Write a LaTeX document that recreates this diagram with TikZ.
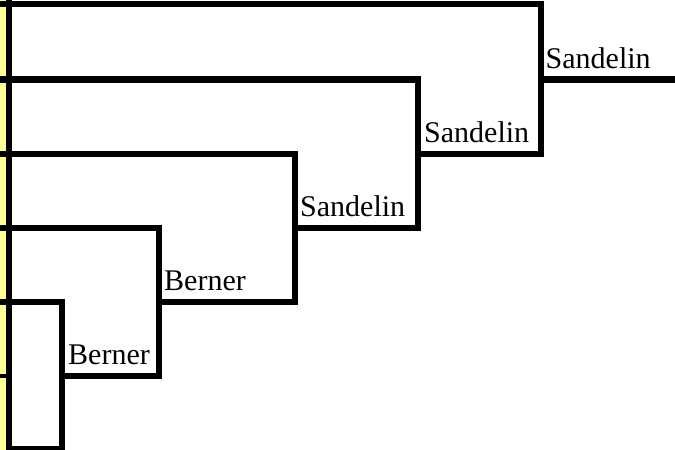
\documentclass[tikz,border=0pt]{standalone}
\usepackage{fontspec}
\setmainfont{Liberation Serif}
\usepackage{tikz}
\usetikzlibrary{calc,backgrounds}
\definecolor{strip}{HTML}{FFFF99}
\tikzstyle{bracket}=[
  x=1pt,y=-1pt,font=\fontsize{30}{36}\selectfont
]
\tikzstyle{edge}=[
  line width=6.5pt
]
\tikzstyle{tick}=[
  line width=4pt
]
\tikzstyle{winner}=[
  anchor=base west,inner sep=0pt
]
\begin{document}
\begin{tikzpicture}[bracket]
    \fill [white] (0,0) rectangle (675,450);
    \fill [strip] (0,0) rectangle (6,450);
    \useasboundingbox (0,0) rectangle (675,450);
      \coordinate (l1) at (0,4);
      \coordinate (l2) at (0,79.5);
      \coordinate (l3) at (0,154);
      \coordinate (l4) at (0,228);
      \coordinate (l5) at (0,302);
      \coordinate (l6) at (0,376);
      \coordinate (l7) at (9,449.5);
      \coordinate (top) at (9,0);
      \coordinate (bot) at (9,450);
      \coordinate (jA) at (62,376);
      \coordinate (jB) at (159,302);
      \coordinate (jC) at (295,228);
      \coordinate (jD) at (418,154);
      \coordinate (jE) at (541,79.5);
      \coordinate (out) at (675,79.5);
      \node (wA) at ($(jA) + (6,-11.5)$) [winner] {Berner};
      \node (wB) at ($(jB) + (5,-12)$) [winner] {Berner};
      \node (wC) at ($(jC) + (5,-12)$) [winner] {Sandelin};
      \node (wD) at ($(jD) + (6,-12)$) [winner] {Sandelin};
      \node (wE) at ($(jE) + (4.5,-11.5)$) [winner] {Sandelin};
      \draw [edge] (top) -- (bot);
      \draw [tick] (l6) -- ($(l6) + (9,0)$);
      \draw [edge] (l5) -| (jA) |- (l7);
      \draw [edge] (l4) -| (jB) |- (jA);
      \draw [edge] (l3) -| (jC) |- (jB);
      \draw [edge] (l2) -| (jD) |- (jC);
      \draw [edge] (l1) -| (jE) |- (jD);
      \draw [edge] (jE) -- (out);
    \end{tikzpicture}
\end{document}
